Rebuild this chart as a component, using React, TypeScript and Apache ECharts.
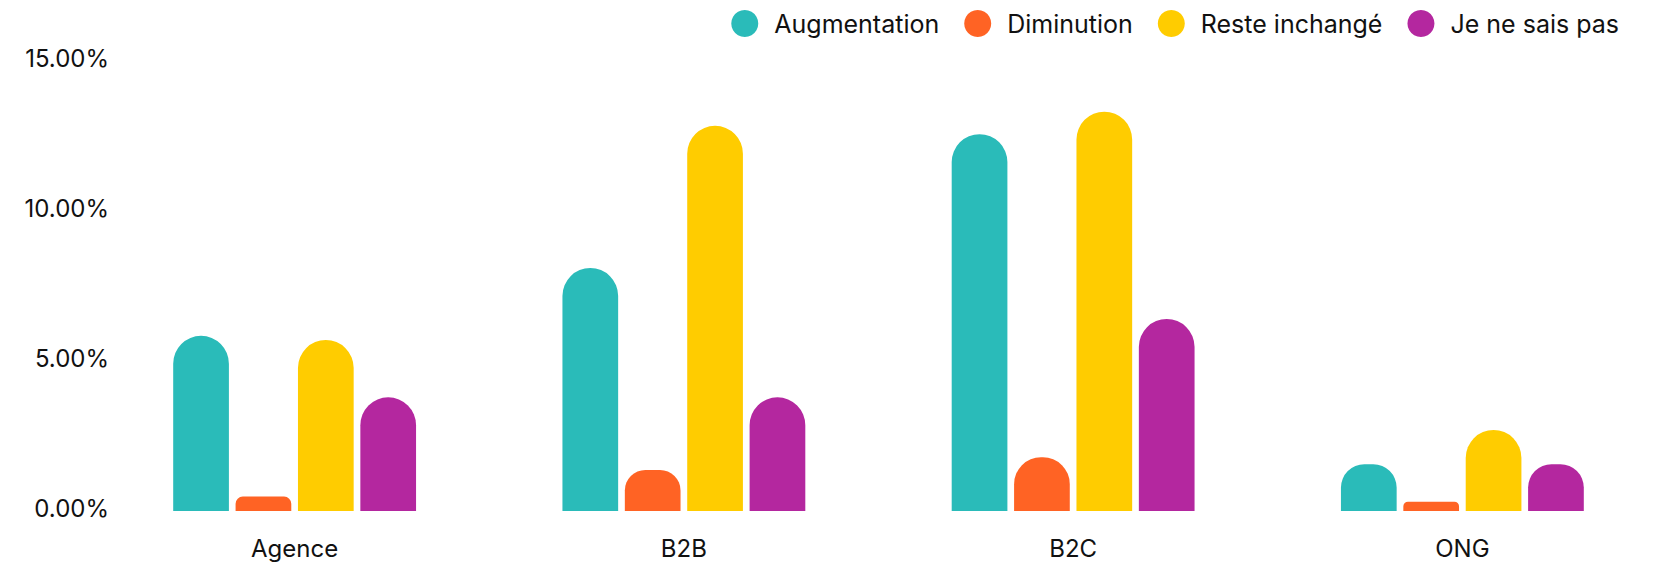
import React, { useEffect, useRef } from "react";
import * as echarts from "echarts";

// Segments on the x axis
const categories = ["Agence", "B2B", "B2C", "ONG"];

// Share of respondents per answer, in percent
const seriesNames = ["Augmentation", "Diminution", "Reste inchangé", "Je ne sais pas"];
const augmentation = [5.84, 8.1, 12.56, 1.56];
const diminution = [0.48, 1.37, 1.79, 0.31];
const resteInchange = [5.7, 12.84, 13.31, 2.7];
const jeNeSaisPas = [3.79, 3.79, 6.4, 1.56];

const seriesValues = [augmentation, diminution, resteInchange, jeNeSaisPas];
const seriesColors = ["#2ABBB9", "#FF6324", "#FFCC00", "#B4279F"];

// Y axis ticks
const yMin = 0;
const yMax = 15;
const yStep = 5;

const FONT = "Inter, 'Noto Sans', sans-serif";
const TEXT_COLOR = "#111111";
const BAR_WIDTH = 55.7;

function buildSeries(pxPerUnit: number | null) {
  return seriesNames.map((name, i) => ({
    name,
    type: "bar",
    barWidth: BAR_WIDTH,
    barGap: "12%",
    itemStyle: { color: seriesColors[i] },
    data: seriesValues[i].map((v) => {
      // top corners are rounded up to half the bar width, never more than half the bar height
      const h = pxPerUnit == null ? BAR_WIDTH : v * pxPerUnit;
      const r = Math.min(BAR_WIDTH / 2, h / 2);
      return { value: v, itemStyle: { borderRadius: [r, r, 0, 0] } };
    }),
  }));
}

export default function App() {
  const ref = useRef<HTMLDivElement>(null);

  useEffect(() => {
    if (!ref.current) return;
    const chart = echarts.init(ref.current, null, { renderer: "svg" });
    chart.setOption({
      animation: false,
      backgroundColor: "#ffffff",
      textStyle: { fontFamily: FONT, color: TEXT_COLOR },
      legend: {
        data: seriesNames.map((n) => ({ name: n, icon: "circle" })),
        right: 33,
        top: 5,
        itemWidth: 49,
        itemHeight: 27,
        itemGap: 25,
        textStyle: { fontFamily: FONT, fontSize: 25, color: TEXT_COLOR },
      },
      grid: { left: 100, right: -5, top: 61, bottom: 53, containLabel: false },
      xAxis: {
        type: "category",
        data: categories,
        axisLine: { show: false },
        axisTick: { show: false },
        splitLine: { show: false },
        axisLabel: { fontFamily: FONT, fontSize: 24, color: TEXT_COLOR, margin: 25 },
      },
      yAxis: {
        type: "value",
        min: yMin,
        max: yMax,
        interval: yStep,
        axisLine: { show: false },
        axisTick: { show: false },
        splitLine: { show: false },
        axisLabel: {
          fontFamily: FONT,
          fontSize: 24,
          color: TEXT_COLOR,
          margin: -9,
          formatter: (v: number) => "{t|" + v.toFixed(2) + "%}",
          rich: {
            t: {
              fontFamily: FONT,
              fontSize: 24,
              color: TEXT_COLOR,
              padding: [0, 0, 6, 0],
            },
          },
        },
      },
      series: buildSeries(null),
    });
    const p0 = chart.convertToPixel({ yAxisIndex: 0 }, 0) as number;
    const p1 = chart.convertToPixel({ yAxisIndex: 0 }, 1) as number;
    chart.setOption({ series: buildSeries(Math.abs(p0 - p1)) });
    return () => chart.dispose();
  }, []);

  return (
    <div
      ref={ref}
      style={{ position: "fixed", left: 0, top: 0, width: 1657, height: 564, background: "#fff" }}
    />
  );
}
